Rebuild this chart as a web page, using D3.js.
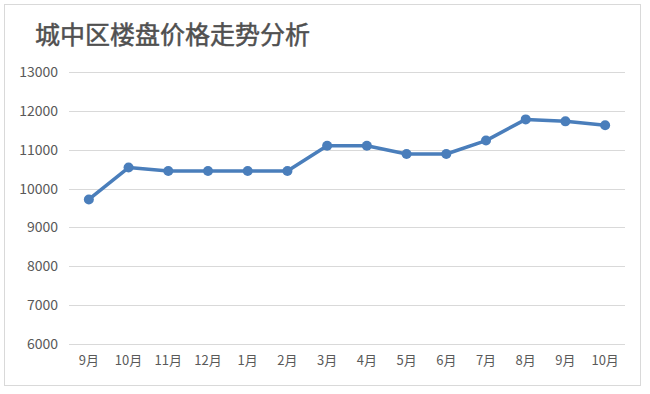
<!DOCTYPE html>
<html><head><meta charset="utf-8">
<script src="https://cdn.jsdelivr.net/npm/d3@7"></script>
<style>
html,body{margin:0;padding:0;background:#fff;}
</style></head>
<body>
<svg id="c" width="650" height="394"></svg>
<script>
const title = "城中区楼盘价格走势分析";
const categories = ["9月","10月","11月","12月","1月","2月","3月","4月","5月","6月","7月","8月","9月","10月"];
const prices = [9720, 10540, 10450, 10450, 10450, 10450, 11100, 11100, 10890, 10890, 11235, 11780, 11730, 11630];
const yTicks = [6000, 7000, 8000, 9000, 10000, 11000, 12000, 13000];

const svg = d3.select("#c");
const font = "'Noto Sans CJK SC','Noto Sans',sans-serif";
const textColor = "#595959";

svg.append("rect").attr("x",4.5).attr("y",4.5).attr("width",636).attr("height",381)
  .attr("fill","#fff").attr("stroke","#d9d9d9").attr("stroke-width",1);

svg.append("text").attr("x",35).attr("y",44).text(title)
  .attr("font-family",font).attr("font-size",25).attr("fill","#505050")
  .attr("stroke","#505050").attr("stroke-width",0.5);

const x = d3.scaleBand().domain(d3.range(categories.length)).range([69,625]);
const y = d3.scaleLinear().domain([6000,13000]).range([344,72]);

const grid = svg.append("g");
grid.selectAll("line").data(yTicks).join("line")
  .attr("x1",69).attr("x2",625)
  .attr("y1",d=>Math.round(y(d))+0.5).attr("y2",d=>Math.round(y(d))+0.5)
  .attr("stroke","#d9d9d9").attr("stroke-width",1);

const yAxis = svg.append("g").attr("transform","translate(69,0)")
  .call(d3.axisLeft(y).tickValues(yTicks).tickSize(0).tickPadding(11).tickFormat(d3.format("d")));
yAxis.select(".domain").remove();
yAxis.selectAll("text").attr("font-family",font).attr("font-size",14).attr("fill",textColor);

const xAxis = svg.append("g").attr("transform","translate(0,344)")
  .call(d3.axisBottom(x).tickSize(0).tickPadding(12).tickFormat(i=>categories[i]));
xAxis.select(".domain").remove();
xAxis.selectAll("text").attr("font-family",font).attr("font-size",13).attr("fill",textColor);

const cx = i => x(i) + x.bandwidth()/2;
const line = d3.line().x((d,i)=>cx(i)).y(d=>y(d));
svg.append("path").datum(prices).attr("d",line)
  .attr("fill","none").attr("stroke","#4a7ebb").attr("stroke-width",3.5)
  .attr("stroke-linejoin","round");
svg.selectAll("circle.pt").data(prices).join("circle").attr("class","pt")
  .attr("cx",(d,i)=>cx(i)).attr("cy",d=>y(d)).attr("r",5)
  .attr("fill","#4a7ebb");
</script>
</body></html>
